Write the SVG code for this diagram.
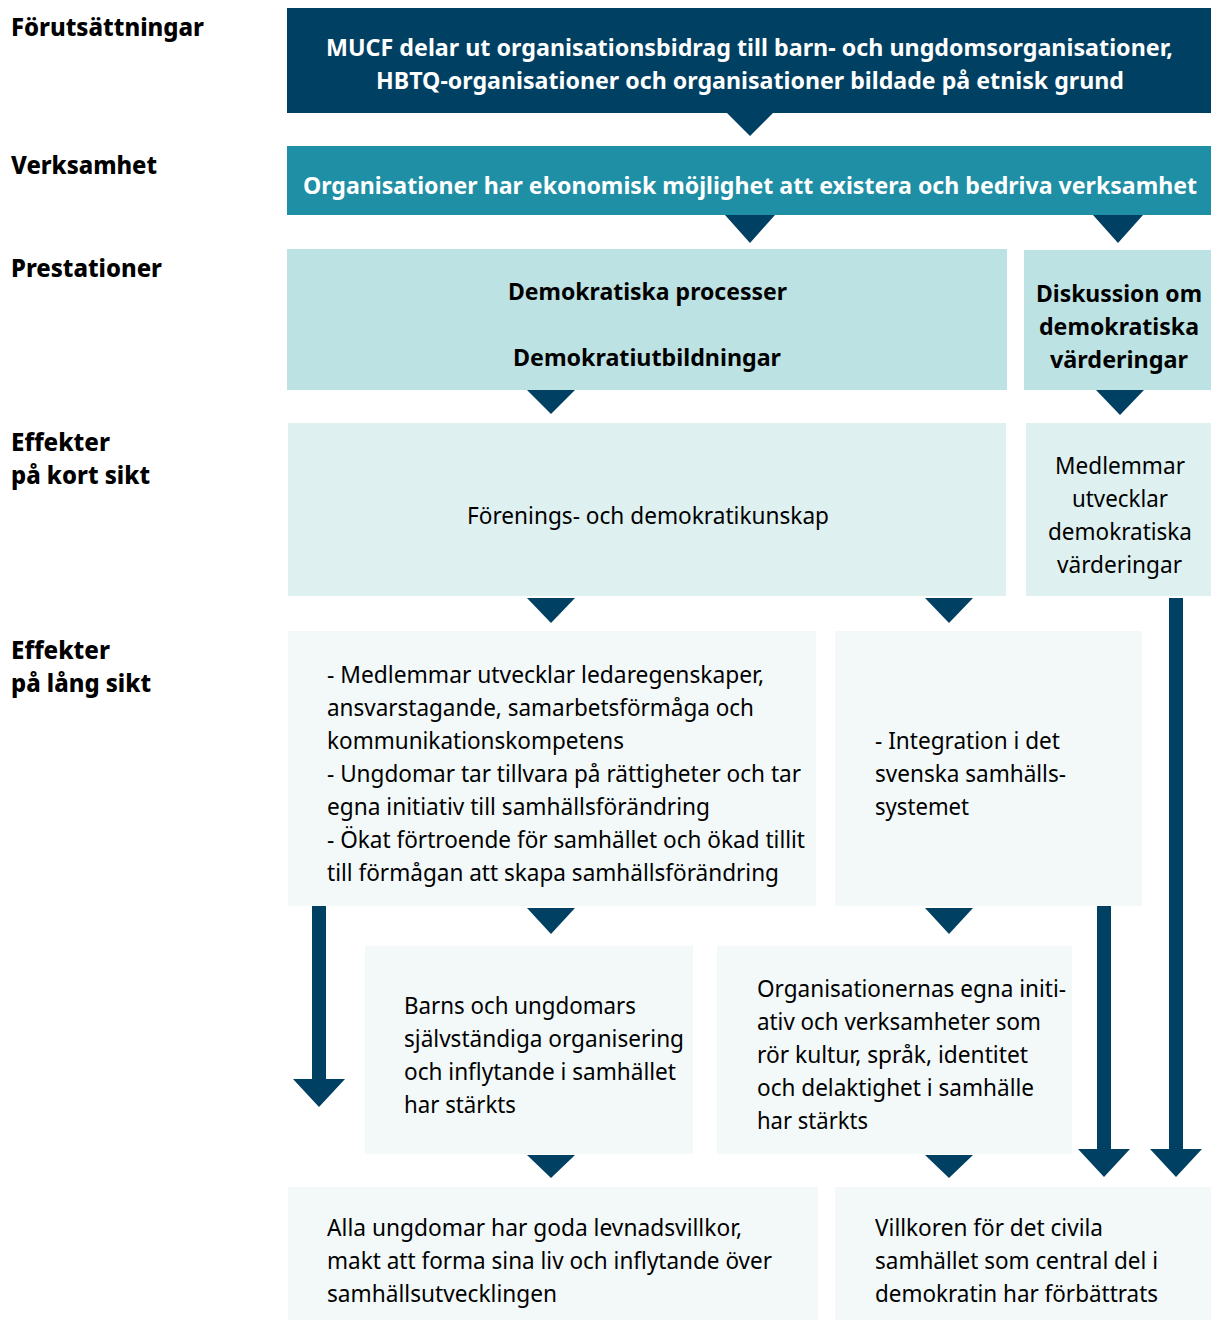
<svg xmlns="http://www.w3.org/2000/svg" width="1211" height="1320" viewBox="0 0 1211 1320">
<defs>
<style>
.lbl{font-family:"Noto Sans","Open Sans",sans-serif;font-weight:800;font-size:24px;fill:#000}
.hw{font-family:"Noto Sans","Open Sans",sans-serif;font-weight:700;font-size:23px;fill:#fff}
.hb{font-family:"Noto Sans","Open Sans",sans-serif;font-weight:700;font-size:24px;fill:#000}
.t{font-family:"Noto Sans","Open Sans",sans-serif;font-weight:400;font-size:24px;fill:#000}
.navy{fill:#004062}
.teal{fill:#1f8fa6}
.c1{fill:#bde2e3}
.c2{fill:#dff0f0}
.c3{fill:#f3f9f9}
.ar{fill:#004062}
</style>
</defs>
<rect width="1211" height="1320" fill="#fff"/>

<g id="labels">
<text class="lbl" x="11" y="36" textLength="193" lengthAdjust="spacingAndGlyphs">Förutsättningar</text>
<text class="lbl" x="11" y="174" textLength="146" lengthAdjust="spacingAndGlyphs">Verksamhet</text>
<text class="lbl" x="11" y="277" textLength="151" lengthAdjust="spacingAndGlyphs">Prestationer</text>
<text class="lbl" x="11" y="451" textLength="99" lengthAdjust="spacingAndGlyphs">Effekter</text>
<text class="lbl" x="11" y="484" textLength="139" lengthAdjust="spacingAndGlyphs">på kort sikt</text>
<text class="lbl" x="11" y="659" textLength="99" lengthAdjust="spacingAndGlyphs">Effekter</text>
<text class="lbl" x="11" y="692" textLength="140" lengthAdjust="spacingAndGlyphs">på lång sikt</text>
</g>

<g id="n-forutsattningar">
<rect class="navy" x="287" y="8" width="924" height="105"/>
<text class="hw" x="326" y="56" textLength="847" lengthAdjust="spacingAndGlyphs">MUCF delar ut organisationsbidrag till barn- och ungdomsorganisationer,</text>
<text class="hw" x="376" y="89" textLength="748" lengthAdjust="spacingAndGlyphs">HBTQ-organisationer och organisationer bildade på etnisk grund</text>
</g>

<g id="n-verksamhet">
<rect class="teal" x="287" y="146" width="924" height="69"/>
<text class="hw" x="303" y="194" textLength="894" lengthAdjust="spacingAndGlyphs">Organisationer har ekonomisk möjlighet att existera och bedriva verksamhet</text>
</g>

<g id="n-demokratiska-processer">
<rect class="c1" x="287" y="249" width="720" height="141"/>
<text class="hb" x="508" y="300" textLength="279" lengthAdjust="spacingAndGlyphs">Demokratiska processer</text>
<text class="hb" x="513" y="366" textLength="268" lengthAdjust="spacingAndGlyphs">Demokratiutbildningar</text>
</g>

<g id="n-diskussion">
<rect class="c1" x="1024" y="250" width="187" height="140"/>
<text class="hb" x="1036" y="302" textLength="166" lengthAdjust="spacingAndGlyphs">Diskussion om</text>
<text class="hb" x="1039" y="335" textLength="160" lengthAdjust="spacingAndGlyphs">demokratiska</text>
<text class="hb" x="1050" y="368" textLength="138" lengthAdjust="spacingAndGlyphs">värderingar</text>
</g>

<g id="n-foreningskunskap">
<rect class="c2" x="288" y="423" width="718" height="173"/>
<text class="t" x="467" y="524" textLength="362" lengthAdjust="spacingAndGlyphs">Förenings- och demokratikunskap</text>
</g>

<g id="n-medlemmar-varderingar">
<rect class="c2" x="1026" y="423" width="185" height="173"/>
<text class="t" x="1055" y="474" textLength="130" lengthAdjust="spacingAndGlyphs">Medlemmar</text>
<text class="t" x="1072" y="507" textLength="96" lengthAdjust="spacingAndGlyphs">utvecklar</text>
<text class="t" x="1048" y="540" textLength="144" lengthAdjust="spacingAndGlyphs">demokratiska</text>
<text class="t" x="1057" y="573" textLength="125" lengthAdjust="spacingAndGlyphs">värderingar</text>
</g>

<g id="n-lang-1">
<rect class="c3" x="288" y="631" width="528" height="275"/>
<text class="t" x="327" y="683" textLength="437" lengthAdjust="spacingAndGlyphs">- Medlemmar utvecklar ledaregenskaper,</text>
<text class="t" x="327" y="716" textLength="427" lengthAdjust="spacingAndGlyphs">ansvarstagande, samarbetsförmåga och</text>
<text class="t" x="327" y="749" textLength="297" lengthAdjust="spacingAndGlyphs">kommunikationskompetens</text>
<text class="t" x="327" y="782" textLength="474" lengthAdjust="spacingAndGlyphs">- Ungdomar tar tillvara på rättigheter och tar</text>
<text class="t" x="327" y="815" textLength="383" lengthAdjust="spacingAndGlyphs">egna initiativ till samhällsförändring</text>
<text class="t" x="327" y="848" textLength="478" lengthAdjust="spacingAndGlyphs">- Ökat förtroende för samhället och ökad tillit</text>
<text class="t" x="327" y="881" textLength="452" lengthAdjust="spacingAndGlyphs">till förmågan att skapa samhällsförändring</text>
</g>

<g id="n-lang-2">
<rect class="c3" x="835" y="631" width="307" height="275"/>
<text class="t" x="875" y="749" textLength="185" lengthAdjust="spacingAndGlyphs">- Integration i det</text>
<text class="t" x="875" y="782" textLength="191" lengthAdjust="spacingAndGlyphs">svenska samhälls-</text>
<text class="t" x="875" y="815" textLength="94" lengthAdjust="spacingAndGlyphs">systemet</text>
</g>

<g id="n-barns">
<rect class="c3" x="365" y="946" width="328" height="208"/>
<text class="t" x="404" y="1014" textLength="232" lengthAdjust="spacingAndGlyphs">Barns och ungdomars</text>
<text class="t" x="404" y="1047" textLength="280" lengthAdjust="spacingAndGlyphs">självständiga organisering</text>
<text class="t" x="404" y="1080" textLength="272" lengthAdjust="spacingAndGlyphs">och inflytande i samhället</text>
<text class="t" x="404" y="1113" textLength="112" lengthAdjust="spacingAndGlyphs">har stärkts</text>
</g>

<g id="n-organisationernas">
<rect class="c3" x="717" y="946" width="355" height="208"/>
<text class="t" x="757" y="997" textLength="309" lengthAdjust="spacingAndGlyphs">Organisationernas egna initi-</text>
<text class="t" x="757" y="1030" textLength="284" lengthAdjust="spacingAndGlyphs">ativ och verksamheter som</text>
<text class="t" x="757" y="1063" textLength="271" lengthAdjust="spacingAndGlyphs">rör kultur, språk, identitet</text>
<text class="t" x="757" y="1096" textLength="277" lengthAdjust="spacingAndGlyphs">och delaktighet i samhälle</text>
<text class="t" x="757" y="1129" textLength="111" lengthAdjust="spacingAndGlyphs">har stärkts</text>
</g>

<g id="n-alla-ungdomar">
<rect class="c3" x="288" y="1187" width="530" height="133"/>
<text class="t" x="327" y="1236" textLength="415" lengthAdjust="spacingAndGlyphs">Alla ungdomar har goda levnadsvillkor,</text>
<text class="t" x="327" y="1269" textLength="445" lengthAdjust="spacingAndGlyphs">makt att forma sina liv och inflytande över</text>
<text class="t" x="327" y="1302" textLength="230" lengthAdjust="spacingAndGlyphs">samhällsutvecklingen</text>
</g>

<g id="n-villkoren">
<rect class="c3" x="835" y="1187" width="376" height="133"/>
<text class="t" x="875" y="1236" textLength="228" lengthAdjust="spacingAndGlyphs">Villkoren för det civila</text>
<text class="t" x="875" y="1269" textLength="283" lengthAdjust="spacingAndGlyphs">samhället som central del i</text>
<text class="t" x="875" y="1302" textLength="283" lengthAdjust="spacingAndGlyphs">demokratin har förbättrats</text>
</g>

<g id="connectors">
<polygon class="ar" points="727,113 773,113 750,136"/>
<polygon class="ar" points="725,215 775,215 750,243"/>
<polygon class="ar" points="1093,215 1143,215 1118,243"/>
<polygon class="ar" points="527,390 575,390 551,414"/>
<polygon class="ar" points="1096,390 1144,390 1120,415"/>
<polygon class="ar" points="527,598 575,598 551,623"/>
<polygon class="ar" points="925,598 973,598 949,623"/>
<polygon class="ar" points="527,908 575,908 551,934"/>
<polygon class="ar" points="925,908 973,908 949,934"/>
<polygon class="ar" points="527,1155 575,1155 551,1178"/>
<polygon class="ar" points="925,1155 973,1155 949,1178"/>
<polygon class="ar" points="312,906 326,906 326,1079 345,1079 319,1107 293,1079 312,1079"/>
<polygon class="ar" points="1097,906 1111,906 1111,1149 1130,1149 1104,1177 1078,1149 1097,1149"/>
<polygon class="ar" points="1169,598 1183,598 1183,1149 1202,1149 1176,1177 1150,1149 1169,1149"/>
</g>
</svg>
